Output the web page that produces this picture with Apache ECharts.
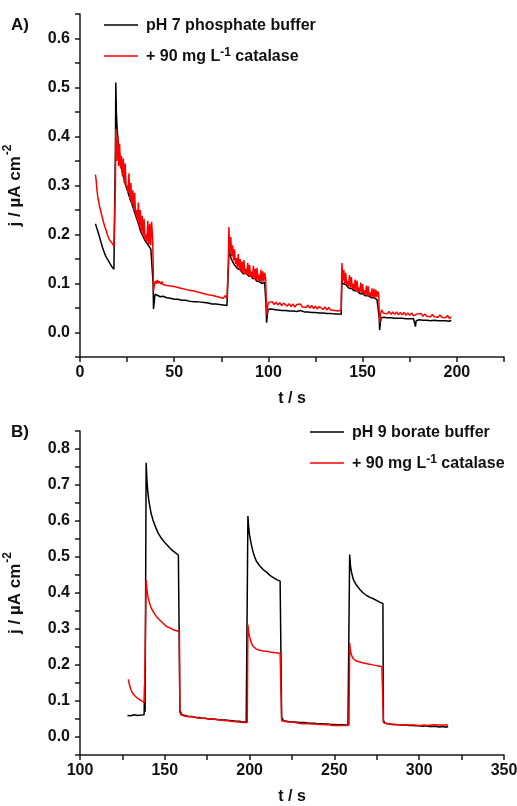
<!DOCTYPE html>
<html>
<head>
<meta charset="utf-8">
<script src="https://cdn.jsdelivr.net/npm/echarts@6/dist/echarts.min.js"></script>
<style>
html,body{margin:0;padding:0;background:#fff;}
#chart{width:517px;height:806px;}
</style>
</head>
<body>
<div id="chart"></div>
<script>
// ---------- Panel A: pH 7 phosphate buffer ----------
const nameA1 = 'pH 7 phosphate buffer';
const nameCat = '+ 90 mg L-1 catalase';
const phosphate7 = [
[8.2,0.222],[9,0.212],[10,0.2],[11,0.186],[12,0.173],[13,0.162],[14,0.153],[15,0.147],[16,0.14],[17,0.134],[18,0.129],[18.6,0.127],
[18.8,0.38],[19,0.51],[19.3,0.45],[19.7,0.415],[20.2,0.392],[20.8,0.37],[21.5,0.345],[22,0.335],[22.6,0.325],[23,0.318],[23.6,0.31],[24,0.303],[24.6,0.297],[25,0.292],[25.6,0.284],[26,0.279],[26.6,0.273],[27,0.268],[27.6,0.262],[28,0.257],[28.6,0.25],[29,0.245],[29.6,0.238],[30,0.233],[30.6,0.227],[31,0.222],[31.6,0.215],[32,0.208],[32.6,0.203],[33,0.199],[33.6,0.195],[34,0.191],[34.6,0.187],[35,0.185],[35.6,0.182],[36,0.179],[36.6,0.176],[37,0.173],[37.6,0.17],[38,0.169],[38.6,0.167],
[38.8,0.1],[39,0.048],[39.4,0.062],[39.8,0.078],[40.3,0.074],[41,0.076],[41.5,0.072],[42,0.079],[42.6,0.073],[43,0.071],[44,0.074],[45,0.07],[46,0.071],[47,0.068],[48,0.07],[49,0.067],[50,0.068],[51,0.066],[52,0.068],[53,0.065],[54,0.066],[55,0.064],[56,0.066],[57,0.063],[58,0.064],[59,0.062],[60,0.063],[61,0.061],[62,0.063],[63,0.06],[64,0.062],[65,0.06],[66,0.061],[67,0.058],[68,0.06],[69,0.057],[70,0.058],[71,0.056],[72,0.058],[73,0.055],[74,0.057],[75,0.054],[76,0.056],[77,0.053],[78,0.055],[78.6,0.054],
[78.8,0.14],[79,0.19],[79.4,0.165],[79.8,0.155],[80.3,0.15],[81,0.147],[81.6,0.14],[82,0.142],[82.6,0.135],[83,0.137],[83.6,0.13],[84,0.132],[84.6,0.126],[85,0.128],[85.6,0.124],[86,0.126],[86.6,0.12],[87,0.123],[87.6,0.119],[88,0.121],[88.6,0.117],[89,0.119],[89.6,0.115],[90,0.117],[90.6,0.113],[91,0.115],[91.6,0.11],[92,0.112],[92.6,0.108],[93,0.11],[93.6,0.105],[94,0.107],[94.6,0.102],[95,0.104],[95.6,0.101],[96,0.103],[96.6,0.1],[97,0.102],[97.6,0.1],[98,0.102],[98.6,0.101],
[98.8,0.05],[99,0.02],[99.4,0.035],[99.8,0.047],[100.4,0.045],[101,0.048],[102,0.046],[103,0.047],[104,0.044],[105,0.046],[106,0.044],[107,0.045],[108,0.043],[109,0.045],[110,0.043],[111,0.044],[112,0.042],[113,0.044],[114,0.042],[115,0.043],[116,0.041],[117,0.045],[118,0.041],[119,0.042],[120,0.04],[121,0.042],[122,0.04],[123,0.041],[124,0.039],[125,0.041],[126,0.039],[127,0.04],[128,0.038],[129,0.04],[130,0.038],[131,0.039],[132,0.037],[133,0.039],[134,0.036],[135,0.038],[136,0.036],[137,0.038],[138,0.036],[138.6,0.037],
[138.8,0.08],[139,0.105],[139.4,0.1],[139.8,0.102],[140.3,0.097],[141,0.098],[141.6,0.094],[142,0.095],[142.6,0.091],[143,0.093],[143.6,0.089],[144,0.09],[144.6,0.087],[145,0.089],[145.6,0.085],[146,0.086],[146.6,0.083],[147,0.085],[147.6,0.081],[148,0.083],[148.6,0.079],[149,0.081],[149.6,0.078],[150,0.079],[150.6,0.076],[151,0.078],[151.6,0.075],[152,0.076],[152.6,0.073],[153,0.075],[153.6,0.072],[154,0.073],[154.6,0.071],[155,0.072],[155.6,0.069],[156,0.071],[156.6,0.068],[157,0.069],[157.6,0.067],[158,0.068],[158.6,0.066],
[158.8,0.03],[159,0.005],[159.4,0.02],[159.8,0.03],[160.4,0.028],[161,0.031],[162,0.029],[163,0.03],[164,0.028],[165,0.03],[166,0.028],[167,0.029],[168,0.027],[169,0.029],[170,0.027],[171,0.029],[172,0.027],[173,0.028],[174,0.026],[175,0.028],[176,0.027],[177,0.028],[177.6,0.026],[178,0.012],[178.4,0.024],[179,0.027],[180,0.026],[181,0.028],[182,0.025],[183,0.027],[184,0.025],[185,0.027],[186,0.024],[187,0.026],[188,0.025],[189,0.026],[190,0.024],[191,0.026],[192,0.024],[193,0.026],[194,0.024],[195,0.025],[196,0.023],[197,0.025]
];
const catalase7 = [
[8.2,0.322],[8.6,0.31],[9,0.29],[9.5,0.275],[10,0.265],[10.5,0.255],[11,0.248],[11.5,0.24],[12,0.232],[12.5,0.225],[13,0.218],[13.5,0.212],[14,0.207],[14.5,0.2],[15,0.195],[15.5,0.19],[16,0.188],[16.5,0.185],[17,0.183],[17.5,0.18],[18,0.175],[18.6,0.172],
[18.8,0.3],[19,0.416],[19.5,0.35],[20,0.4],[20.5,0.34],[21,0.385],[21.5,0.335],[22,0.36],[22.5,0.32],[23,0.355],[23.5,0.305],[24,0.345],[24.5,0.295],[25,0.3],[25.5,0.285],[26,0.325],[26.5,0.27],[27,0.305],[27.5,0.262],[28,0.29],[28.5,0.25],[29,0.285],[29.5,0.24],[30,0.25],[30.5,0.228],[31,0.265],[31.5,0.216],[32,0.25],[32.5,0.205],[33,0.238],[33.5,0.198],[34,0.232],[34.5,0.19],[35,0.2],[35.5,0.185],[36,0.228],[36.5,0.18],[37,0.222],[37.5,0.178],[38,0.226],[38.5,0.195],
[38.8,0.15],[39,0.084],[39.4,0.095],[40,0.105],[40.5,0.1],[41,0.107],[41.5,0.1],[42,0.105],[43,0.099],[43.5,0.104],[44,0.098],[45,0.102],[46,0.096],[47,0.1],[48,0.095],[49,0.099],[50,0.094],[51,0.098],[52,0.092],[53,0.095],[54,0.09],[55,0.094],[56,0.088],[57,0.091],[58,0.086],[59,0.09],[60,0.085],[61,0.088],[62,0.083],[63,0.086],[64,0.081],[65,0.085],[66,0.079],[67,0.083],[68,0.077],[69,0.081],[70,0.076],[71,0.079],[72,0.074],[73,0.078],[74,0.072],[75,0.076],[76,0.07],[77,0.075],[78,0.069],[78.6,0.072],
[78.8,0.15],[79,0.215],[79.5,0.165],[80,0.195],[80.5,0.155],[81,0.178],[81.5,0.147],[82,0.17],[82.5,0.14],[83,0.152],[83.5,0.133],[84,0.16],[84.5,0.128],[85,0.15],[85.5,0.125],[86,0.145],[86.5,0.122],[87,0.148],[87.5,0.12],[88,0.13],[88.5,0.118],[89,0.142],[89.5,0.116],[90,0.138],[90.5,0.114],[91,0.124],[91.5,0.112],[92,0.136],[92.5,0.109],[93,0.13],[93.5,0.107],[94,0.132],[94.5,0.105],[95,0.118],[95.5,0.104],[96,0.128],[96.5,0.103],[97,0.125],[97.5,0.104],[98,0.122],[98.5,0.11],
[98.8,0.07],[99,0.035],[99.4,0.05],[100,0.061],[101,0.057],[102,0.063],[103,0.057],[104,0.062],[105,0.056],[106,0.061],[107,0.055],[108,0.06],[109,0.056],[110,0.054],[111,0.059],[112,0.053],[113,0.058],[114,0.052],[115,0.057],[116,0.053],[117,0.058],[118,0.052],[119,0.056],[120,0.051],[121,0.056],[122,0.05],[123,0.055],[124,0.049],[125,0.054],[126,0.048],[127,0.053],[128,0.049],[129,0.047],[130,0.052],[131,0.046],[132,0.051],[133,0.046],[134,0.05],[135,0.045],[136,0.049],[137,0.044],[138,0.048],[138.6,0.046],
[138.8,0.1],[139,0.142],[139.5,0.105],[140,0.128],[140.5,0.1],[141,0.122],[141.5,0.097],[142,0.105],[142.5,0.094],[143,0.117],[143.5,0.092],[144,0.113],[144.5,0.089],[145,0.1],[145.5,0.087],[146,0.108],[146.5,0.085],[147,0.106],[147.5,0.083],[148,0.092],[148.5,0.082],[149,0.102],[149.5,0.08],[150,0.099],[150.5,0.078],[151,0.086],[151.5,0.077],[152,0.096],[152.5,0.075],[153,0.094],[153.5,0.074],[154,0.082],[154.5,0.073],[155,0.09],[155.5,0.072],[156,0.089],[156.5,0.071],[157,0.087],[157.5,0.072],[158,0.084],[158.5,0.079],
[158.8,0.04],[159,0.02],[159.4,0.035],[160,0.046],[161,0.04],[162,0.044],[163,0.038],[164,0.043],[165,0.037],[166,0.042],[167,0.037],[168,0.042],[169,0.036],[170,0.041],[171,0.036],[172,0.041],[173,0.035],[174,0.04],[175,0.035],[176,0.04],[177,0.034],[178,0.03],[179,0.038],[180,0.034],[181,0.039],[182,0.033],[183,0.038],[184,0.033],[185,0.037],[186,0.032],[187,0.037],[188,0.032],[189,0.036],[190,0.031],[191,0.036],[192,0.031],[193,0.035],[194,0.03],[195,0.035],[196,0.029],[197,0.032]
];

// ---------- Panel B: pH 9 borate buffer ----------
const nameB1 = 'pH 9 borate buffer';
const borate9 = [
[128,0.06],[129,0.061],[130,0.059],[131,0.06],[132,0.062],[133,0.059],[134,0.06],[135,0.058],[136,0.061],[137,0.06],[137.8,0.062],[138.1,0.145],[138.4,0.07],[138.7,0.075],
[139,0.762],[139.5,0.71],[140,0.68],[140.5,0.66],[141,0.645],[142,0.62],[143,0.603],[144,0.59],[145,0.578],[146,0.567],[147,0.562],[148,0.552],[149,0.549],[150,0.54],[151,0.538],[152,0.53],[153,0.527],[154,0.52],[155,0.518],[156,0.513],[157,0.509],[158,0.505],[158.6,0.503],
[158.9,0.075],[159.5,0.07],[160,0.062],[161,0.06],[162,0.06],[164,0.057],[166,0.057],[168,0.055],[170,0.054],[172,0.052],[174,0.052],[176,0.05],[178,0.05],[180,0.049],[182,0.048],[184,0.047],[186,0.047],[188,0.046],[190,0.045],[192,0.044],[194,0.044],[196,0.042],[198,0.042],[198.6,0.043],
[199,0.614],[199.5,0.58],[200,0.56],[201,0.535],[202,0.515],[203,0.5],[204,0.488],[205,0.482],[206,0.475],[207,0.472],[208,0.465],[209,0.464],[210,0.458],[211,0.455],[212,0.449],[213,0.45],[214,0.443],[215,0.444],[216,0.437],[217,0.439],[218,0.433],[218.6,0.436],
[218.9,0.055],[219.5,0.05],[220,0.045],[222,0.044],[224,0.042],[226,0.042],[228,0.041],[230,0.04],[232,0.04],[234,0.039],[236,0.038],[238,0.038],[240,0.037],[242,0.037],[244,0.036],[246,0.036],[248,0.035],[250,0.035],[252,0.034],[254,0.034],[256,0.033],[258,0.033],[258.6,0.034],
[259,0.507],[259.5,0.475],[260,0.46],[261,0.44],[262,0.43],[263,0.422],[264,0.416],[265,0.41],[266,0.405],[267,0.4],[268,0.396],[269,0.393],[270,0.39],[271,0.388],[272,0.386],[273,0.384],[274,0.381],[275,0.379],[276,0.376],[277,0.374],[278,0.372],[278.6,0.371],
[278.9,0.045],[279.5,0.04],[280,0.038],[282,0.037],[284,0.035],[286,0.035],[288,0.034],[290,0.033],[292,0.033],[294,0.032],[296,0.032],[298,0.031],[300,0.031],[302,0.03],[304,0.031],[306,0.029],[308,0.03],[310,0.029],[312,0.028],[314,0.029],[316,0.027],[317,0.03]
];
const catalase9 = [
[128.5,0.16],[129,0.148],[130,0.132],[131,0.122],[132,0.116],[133,0.111],[134,0.107],[135,0.104],[136,0.101],[137,0.098],[138,0.096],[138.6,0.094],
[139,0.436],[139.5,0.41],[140,0.39],[141,0.372],[142,0.358],[143,0.35],[144,0.342],[145,0.335],[146,0.33],[147,0.325],[148,0.32],[149,0.316],[150,0.311],[151,0.307],[152,0.305],[153,0.303],[154,0.3],[155,0.298],[156,0.296],[157,0.295],[158,0.294],[158.6,0.292],
[158.9,0.068],[159.5,0.062],[160,0.06],[161,0.059],[162,0.058],[163,0.057],[164,0.058],[165,0.056],[166,0.055],[167,0.056],[168,0.054],[169,0.053],[170,0.054],[171,0.052],[172,0.051],[173,0.052],[174,0.05],[175,0.051],[176,0.049],[177,0.05],[178,0.048],[179,0.049],[180,0.047],[181,0.048],[182,0.046],[183,0.047],[184,0.045],[185,0.046],[186,0.044],[187,0.045],[188,0.043],[189,0.044],[190,0.042],[191,0.043],[192,0.041],[193,0.042],[194,0.04],[195,0.041],[196,0.039],[197,0.04],[198,0.039],[198.6,0.04],
[199,0.312],[199.5,0.29],[200,0.278],[201,0.262],[202,0.252],[203,0.247],[204,0.244],[205,0.242],[206,0.241],[207,0.24],[208,0.239],[210,0.238],[212,0.236],[214,0.235],[216,0.234],[218,0.232],[218.6,0.23],
[218.9,0.045],[219.5,0.043],[220,0.042],[221,0.043],[222,0.041],[223,0.042],[224,0.04],[225,0.041],[226,0.039],[227,0.04],[228,0.039],[229,0.038],[230,0.039],[231,0.037],[232,0.038],[233,0.037],[234,0.036],[235,0.037],[236,0.035],[237,0.036],[238,0.035],[239,0.036],[240,0.034],[241,0.035],[242,0.034],[243,0.035],[244,0.033],[245,0.034],[246,0.033],[247,0.034],[248,0.033],[249,0.032],[250,0.033],[251,0.032],[252,0.033],[253,0.032],[254,0.033],[255,0.032],[256,0.033],[257,0.032],[258,0.033],[258.6,0.034],
[259,0.261],[259.5,0.24],[260,0.228],[261,0.218],[262,0.213],[263,0.211],[264,0.209],[266,0.207],[268,0.205],[270,0.203],[272,0.201],[274,0.199],[276,0.197],[278,0.195],[278.6,0.194],
[278.9,0.04],[279.5,0.037],[280,0.036],[281,0.037],[282,0.035],[283,0.036],[284,0.034],[285,0.035],[286,0.033],[287,0.034],[288,0.033],[289,0.034],[290,0.032],[291,0.034],[292,0.032],[293,0.033],[294,0.031],[295,0.033],[296,0.031],[297,0.033],[298,0.031],[299,0.032],[300,0.03],[301,0.032],[302,0.03],[303,0.033],[304,0.031],[305,0.032],[306,0.03],[307,0.033],[308,0.031],[309,0.034],[310,0.031],[311,0.033],[312,0.03],[313,0.033],[314,0.031],[315,0.033],[316,0.032],[317,0.033]
];

// axis settings
const xRangeA = [0, 225];
const xRangeB = [100, 350];
const yRangeA = [-0.05, 0.65];
const yRangeB = [-0.05, 0.85];

const FONT = 'Liberation Sans, Arial, sans-serif';
const axisLineStyle = {color: '#1a1a1a', width: 1.5};

function xAxisCfg(idx, range) {
  return {
    type: 'value', gridIndex: idx, min: range[0], max: range[1], interval: 25,
    name: 't / s', nameLocation: 'middle', nameGap: 34,
    nameTextStyle: {fontFamily: FONT, fontWeight: 'bold', fontSize: 16, color: '#111'},
    axisLine: {show: true, onZero: false, lineStyle: axisLineStyle},
    axisTick: {show: true, inside: false, length: 5, lineStyle: axisLineStyle},
    axisLabel: {
      show: true, margin: 8, fontFamily: FONT, fontWeight: 'bold', fontSize: 16, color: '#111',
      showMinLabel: true, showMaxLabel: true,
      formatter: v => (Math.round(v) % 50 === 0 ? String(Math.round(v)) : '')
    },
    splitLine: {show: false}
  };
}
function yAxisCfg(idx, range) {
  return {
    type: 'value', gridIndex: idx, min: range[0], max: range[1], interval: 0.05,
    name: '{a|j / µA cm}{s|-2}', nameLocation: 'middle', nameGap: 56, nameRotate: 90,
    nameTextStyle: {
      fontFamily: FONT, fontWeight: 'bold', fontSize: 17, color: '#111',
      rich: {
        a: {fontFamily: FONT, fontWeight: 'bold', fontSize: 17, color: '#111', lineHeight: 22, verticalAlign: 'bottom'},
        s: {fontFamily: FONT, fontWeight: 'bold', fontSize: 12, color: '#111', lineHeight: 22, verticalAlign: 'top', padding: [0, 0, 0, 1]}
      }
    },
    axisLine: {show: true, onZero: false, lineStyle: axisLineStyle},
    axisTick: {show: true, inside: false, length: 5, lineStyle: axisLineStyle},
    axisLabel: {
      show: true, margin: 10, fontFamily: FONT, fontWeight: 'bold', fontSize: 16, color: '#111',
      formatter: v => {
        const k = Math.round(v * 100);
        return (Math.abs(k) % 10 === 0) ? (k / 100).toFixed(1) : '';
      }
    },
    splitLine: {show: false}
  };
}
function legendCfg(left, top, names) {
  return {
    data: names, left: left, top: top, orient: 'vertical', padding: 0,
    itemWidth: 34, itemHeight: 14, itemGap: 13, selectedMode: false,
    icon: 'path://M0,6 L34,6 L34,7.6 L0,7.6 Z',
    textStyle: {
      fontFamily: FONT, fontWeight: 'bold', fontSize: 16, color: '#111', padding: [0, 0, 0, 3],
      rich: {
        b: {fontFamily: FONT, fontWeight: 'bold', fontSize: 16, color: '#111', lineHeight: 18, verticalAlign: 'bottom'},
        sup: {fontFamily: FONT, fontWeight: 'bold', fontSize: 12, color: '#111', lineHeight: 18, verticalAlign: 'top'}
      }
    },
    formatter: name => {
      const parts = name.split('L-1');
      if (parts.length === 2) return '{b|' + parts[0] + 'L}{sup|-1}{b|' + parts[1] + '}';
      return '{b|' + name + '}';
    }
  };
}
function lineSeries(name, data, color, xi, yi) {
  return {
    name: name, type: 'line', data: data, xAxisIndex: xi, yAxisIndex: yi,
    showSymbol: false, symbol: 'none', animation: false,
    lineStyle: {color: color, width: 1.5}, itemStyle: {color: color},
    clip: true
  };
}

const chart = echarts.init(document.getElementById('chart'), null, {renderer: 'canvas'});
chart.setOption({
  backgroundColor: '#ffffff',
  animation: false,
  grid: [
    {left: 80, right: 13, top: 14, height: 343, outerBoundsMode: 'none', containLabel: false},
    {left: 80, right: 13, top: 431, height: 324, outerBoundsMode: 'none', containLabel: false}
  ],
  xAxis: [xAxisCfg(0, xRangeA), xAxisCfg(1, xRangeB)],
  yAxis: [yAxisCfg(0, yRangeA), yAxisCfg(1, yRangeB)],
  legend: [
    legendCfg(104, 18, [nameA1, nameCat]),
    legendCfg(310, 425, [nameB1, nameCat])
  ],
  graphic: [
    {type: 'text', left: 11, top: 17, style: {text: 'A)', fontFamily: FONT, fontWeight: 'bold', fontSize: 17, fill: '#111'}},
    {type: 'text', left: 11, top: 424, style: {text: 'B)', fontFamily: FONT, fontWeight: 'bold', fontSize: 17, fill: '#111'}}
  ],
  series: [
    lineSeries(nameA1, phosphate7, '#000000', 0, 0),
    lineSeries(nameCat, catalase7, '#ff0000', 0, 0),
    lineSeries(nameB1, borate9, '#000000', 1, 1),
    lineSeries(nameCat, catalase9, '#ff0000', 1, 1)
  ]
});
</script>
</body>
</html>
